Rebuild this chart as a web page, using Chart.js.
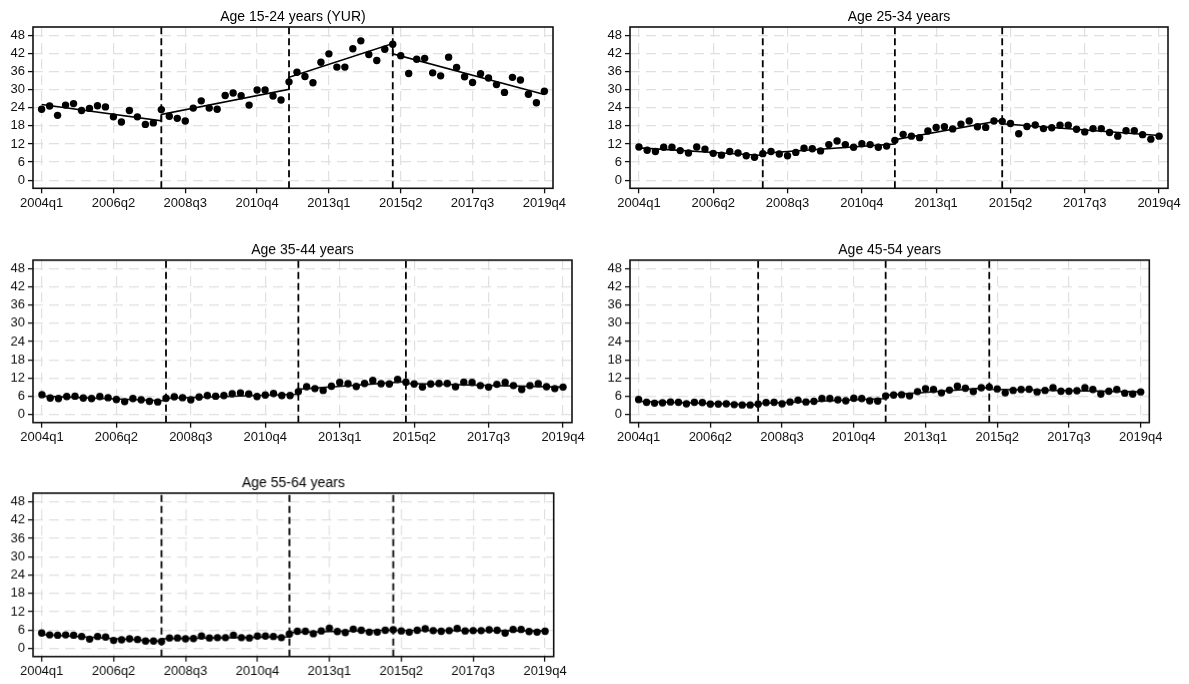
<!DOCTYPE html>
<html>
<head>
<meta charset="utf-8">
<script src="https://cdn.jsdelivr.net/npm/chart.js@4/dist/chart.umd.min.js"></script>
<style>
  html, body { margin: 0; padding: 0; background: #fff; }
  body { width: 1189px; height: 684px; position: relative; overflow: hidden; }
  .panel { position: absolute; }
</style>
</head>
<body>
<div class="panel" id="p1"><canvas id="c1"></canvas></div>
<div class="panel" id="p2"><canvas id="c2"></canvas></div>
<div class="panel" id="p3"><canvas id="c3"></canvas></div>
<div class="panel" id="p4"><canvas id="c4"></canvas></div>
<div class="panel" id="p5"><canvas id="c5"></canvas></div>
<script>
// ---------------- DATA ----------------
const quarters = [
  '2004q1','2004q2','2004q3','2004q4','2005q1','2005q2','2005q3','2005q4',
  '2006q1','2006q2','2006q3','2006q4','2007q1','2007q2','2007q3','2007q4',
  '2008q1','2008q2','2008q3','2008q4','2009q1','2009q2','2009q3','2009q4',
  '2010q1','2010q2','2010q3','2010q4','2011q1','2011q2','2011q3','2011q4',
  '2012q1','2012q2','2012q3','2012q4','2013q1','2013q2','2013q3','2013q4',
  '2014q1','2014q2','2014q3','2014q4','2015q1','2015q2','2015q3','2015q4',
  '2016q1','2016q2','2016q3','2016q4','2017q1','2017q2','2017q3','2017q4',
  '2018q1','2018q2','2018q3','2018q4','2019q1','2019q2','2019q3','2019q4'
];
const xTickLabels = ['2004q1','2006q2','2008q3','2010q4','2013q1','2015q2','2017q3','2019q4'];
const yTickValues = [0, 6, 12, 18, 24, 30, 36, 42, 48];
const breakQuarters = ['2007q4', '2011q4', '2015q1'];
const segmentBounds = ['2004q1', '2007q4', '2011q4', '2015q1', '2019q4'];

const titles = ['Age 15-24 years (YUR)', 'Age 25-34 years', 'Age 35-44 years', 'Age 45-54 years', 'Age 55-64 years'];

const age15_24 = [23.5,24.6,21.5,24.9,25.4,23.1,23.8,24.7,24.3,21.0,
  19.3,23.1,21.0,18.5,19.0,23.4,21.2,20.5,19.6,23.9,
  26.3,23.9,23.5,28.1,28.9,28.0,24.9,29.9,29.9,27.9,
  26.6,32.6,35.8,34.4,32.3,39.1,41.9,37.5,37.5,43.6,
  46.2,41.7,39.7,43.4,45.1,41.3,35.4,40.1,40.4,35.6,
  34.6,40.8,37.4,34.3,32.4,35.3,33.9,31.7,29.1,34.1,
  33.2,28.5,25.7,29.5];
const age25_34 = [11.0,9.9,9.5,10.9,10.9,9.8,9.0,11.0,10.3,8.9,
  8.3,9.5,9.0,8.1,7.6,8.8,9.5,8.7,8.1,9.2,
  10.6,10.4,9.7,11.8,13.0,11.8,10.9,12.1,11.8,10.9,
  11.3,13.2,15.2,14.6,14.1,16.3,17.5,17.7,17.0,18.6,
  19.6,17.7,17.5,19.6,19.5,18.8,15.4,17.8,18.3,17.1,
  17.4,18.2,18.2,16.9,16.0,17.1,17.1,15.8,14.6,16.4,
  16.4,15.1,13.6,14.6];
const age35_44 = [6.5,5.4,5.2,5.9,6.0,5.4,5.2,5.9,5.5,4.9,
  4.2,5.2,4.8,4.3,4.1,5.3,5.8,5.5,4.8,5.7,
  6.2,6.0,6.2,6.8,7.1,6.7,5.9,6.4,6.9,6.2,
  6.2,7.5,9.1,8.5,7.9,9.3,10.5,10.1,9.2,10.2,
  11.2,10.1,10.0,11.5,10.6,10.0,9.0,10.0,10.2,10.2,
  9.1,10.6,10.5,9.5,9.0,9.9,10.5,9.5,8.2,9.5,
  10.1,9.1,8.5,9.0];
const age45_54 = [4.9,4.0,3.7,3.8,4.1,4.0,3.5,4.0,3.9,3.4,
  3.4,3.5,3.2,3.1,3.1,3.4,3.9,4.0,3.5,4.1,
  4.7,4.1,4.3,5.2,5.2,4.8,4.5,5.3,5.2,4.5,
  4.4,6.1,6.4,6.5,6.1,7.5,8.5,8.2,7.1,8.0,
  9.3,8.6,7.5,8.8,9.0,8.4,7.1,7.9,8.2,8.3,
  7.4,7.9,8.8,7.6,7.6,7.8,8.8,8.2,6.7,7.6,
  8.2,7.0,6.7,7.4];
const age55_64 = [5.0,4.4,4.3,4.4,4.3,3.9,3.0,3.9,3.7,2.6,
  2.8,3.1,2.9,2.4,2.4,2.2,3.4,3.4,3.1,3.2,
  4.0,3.4,3.5,3.5,4.3,3.5,3.4,4.0,4.0,3.9,
  3.5,4.7,5.6,5.6,4.8,5.7,6.6,5.5,5.2,6.3,
  5.9,5.3,5.3,5.9,6.1,5.7,5.3,5.9,6.4,5.8,
  5.6,5.8,6.5,5.7,5.8,5.8,6.1,5.9,5.0,6.2,
  6.2,5.5,5.3,5.6];

// fitted trend per segment: [value at segment start, value at segment end]
const fit15_24 = [[25.1,19.7],[21.8,30.1],[34.1,45.3],[41.9,28.4]];
const fit25_34 = [[10.7,8.2],[8.9,12.0],[13.4,19.9],[18.7,14.8]];
const fit35_44 = [[6.0,4.5],[5.3,6.6],[8.3,10.8],[10.2,9.0]];
const fit45_54 = [[4.3,3.1],[3.6,5.2],[6.3,8.8],[8.3,7.4]];
const fit55_64 = [[4.5,2.3],[3.1,3.8],[5.2,6.0],[5.9,5.7]];

// ---------------- LAYOUT / STYLE ----------------
const FONT = "'Liberation Sans', Arial, Helvetica, sans-serif";
const Y_AXIS_W = 33, X_AXIS_H = 30, PAD_TOP = 27;
const X_MIN = -1.08, X_MAX = 64.08, Y_MIN = -2.7, Y_MAX = 50.8;

// plot area boxes [left, right, top, bottom]
const panelBoxes = [
  [33, 553, 27, 188.3],
  [630, 1168, 27, 188.3],
  [33, 572, 260, 421.7],
  [630, 1149.3, 260, 421.7],
  [33, 552.7, 493.3, 656]
];
const rightPads = [25, 21, 25, 25, 25];

const seriesList = [age15_24, age25_34, age35_44, age45_54, age55_64];
const fitList = [fit15_24, fit25_34, fit35_44, fit45_54, fit55_64];

const xTickValues = xTickLabels.map(l => quarters.indexOf(l));
const breakIdx = breakQuarters.map(q => quarters.indexOf(q));
const boundIdx = segmentBounds.map(q => quarters.indexOf(q));

const framePlugin = {
  id: 'frameAndTitle',
  afterDraw(chart, args, opts) {
    const { ctx, chartArea: a } = chart;
    ctx.save();
    ctx.strokeStyle = '#111';
    ctx.lineWidth = 1.6;
    ctx.strokeRect(a.left, a.top, a.right - a.left, a.bottom - a.top);
    ctx.fillStyle = '#000';
    ctx.font = '14px ' + FONT;
    ctx.textAlign = 'center';
    ctx.textBaseline = 'middle';
    ctx.fillText(opts.text, (a.left + a.right) / 2, a.top - 10);
    ctx.restore();
  }
};

function makeChart(i) {
  const [L, R, T, B] = panelBoxes[i];
  const div = document.getElementById('p' + (i + 1));
  div.style.left = (L - Y_AXIS_W) + 'px';
  div.style.top = (T - PAD_TOP) + 'px';
  div.style.width = ((R - L) + Y_AXIS_W + rightPads[i]) + 'px';
  div.style.height = (PAD_TOP + (B - T) + X_AXIS_H) + 'px';

  const values = seriesList[i];
  const pts = values.map((v, k) => ({ x: k, y: v }));
  const fit = fitList[i];
  const fitPts = [];
  fit.forEach((seg, s) => {
    fitPts.push({ x: boundIdx[s], y: seg[0] });
    fitPts.push({ x: boundIdx[s + 1], y: seg[1] });
  });

  const datasets = [
    { type: 'scatter', data: pts, pointRadius: 3.7, pointHoverRadius: 3.7,
      pointBackgroundColor: '#000', pointBorderWidth: 0, showLine: false, order: 1 },
    { type: 'line', data: fitPts, borderColor: '#000', borderWidth: 1.6,
      pointRadius: 0, fill: false, tension: 0, order: 2 }
  ];
  breakIdx.forEach(b => {
    datasets.push({ type: 'line', data: [{ x: b, y: Y_MIN }, { x: b, y: Y_MAX }],
      borderColor: '#000', borderWidth: 1.8, borderDash: [7, 4],
      pointRadius: 0, fill: false, order: 3 });
  });

  new Chart(document.getElementById('c' + (i + 1)), {
    type: 'scatter',
    data: { datasets },
    plugins: [framePlugin],
    options: {
      responsive: true,
      maintainAspectRatio: false,
      devicePixelRatio: 1,
      animation: false,
      events: [],
      layout: { padding: { top: PAD_TOP, right: rightPads[i], bottom: 0, left: 0 } },
      plugins: {
        legend: { display: false },
        tooltip: { enabled: false },
        title: { display: false },
        frameAndTitle: { text: titles[i] }
      },
      scales: {
        x: {
          type: 'linear', min: X_MIN, max: X_MAX,
          afterBuildTicks: s => { s.ticks = xTickValues.map(v => ({ value: v })); },
          afterFit: s => { s.height = X_AXIS_H; s.paddingLeft = 0; s.paddingRight = 0; },
          ticks: { callback: v => quarters[v], color: '#111', font: { family: FONT, size: 13 },
                   padding: 2, maxRotation: 0, minRotation: 0, autoSkip: false },
          grid: { color: '#e0e0e0', lineWidth: 1.2, drawTicks: true, tickLength: 5,
                  tickColor: '#111', tickWidth: 1.3, tickBorderDash: [] },
          border: { display: false, dash: [10, 6] }
        },
        y: {
          type: 'linear', min: Y_MIN, max: Y_MAX,
          afterBuildTicks: s => { s.ticks = yTickValues.map(v => ({ value: v })); },
          afterFit: s => { s.width = Y_AXIS_W; s.paddingTop = 0; s.paddingBottom = 0; },
          ticks: { color: '#111', font: { family: FONT, size: 13 }, padding: 3 },
          grid: { color: '#e0e0e0', lineWidth: 1.2, drawTicks: true, tickLength: 5,
                  tickColor: '#111', tickWidth: 1.3, tickBorderDash: [] },
          border: { display: false, dash: [10, 6] }
        }
      }
    }
  });
}

for (let i = 0; i < 5; i++) makeChart(i);
</script>
</body>
</html>
